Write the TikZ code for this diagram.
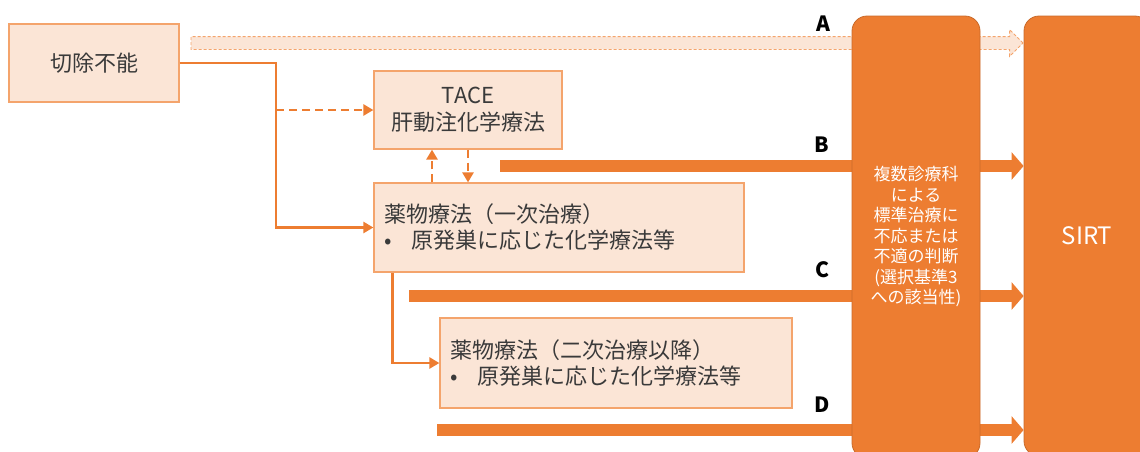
\documentclass[tikz,border=0pt]{standalone}
\usepackage{fontspec}
\setmainfont{Noto Sans CJK JP}
\usetikzlibrary{arrows.meta,shapes.arrows}
\definecolor{org}{HTML}{ED7D31}
\definecolor{peach}{HTML}{FBE5D6}
\definecolor{pline}{HTML}{F4A46C}
\definecolor{txt}{HTML}{3A3A3A}
\begin{document}
\begin{tikzpicture}[x=1pt,y=-1pt,
 box/.style={draw=pline,line width=1.2pt,fill=peach,text=txt,font=\fontsize{22}{26}\selectfont,inner sep=0pt},
 conn/.style={draw=org,line width=2.7pt,-{Triangle[length=10pt,width=11pt]}},
 dconn/.style={conn,dash pattern=on 8pt off 5pt},
 fat/.style={draw=org,line width=12pt,-{Triangle[length=12pt,width=27pt]}},
 lab/.style={font=\fontsize{21}{21}\selectfont\bfseries,text=black},
 big/.style={fill=org,draw=org!85!black,line width=0.8pt,rounded corners=15pt,text=white,align=center,inner sep=0pt}]
\useasboundingbox (0,0) rectangle (1140,451);
% nodes
\node[box,minimum width=170pt,minimum height=78pt] (cut) at (94,63) {切除不能};
\node[box,minimum width=188pt,minimum height=78pt,align=center,font=\fontsize{22}{27}\selectfont] (tace) at (468,110) {TACE\\肝動注化学療法};
\node[box,minimum width=370pt,minimum height=89pt,text width=350pt,inner xsep=10pt,align=left] (y1) at (559,227.5)
 {薬物療法（一次治療）\\\makebox[28pt][l]{•}原発巣に応じた化学療法等};
\node[box,minimum width=352pt,minimum height=90pt,text width=332pt,inner xsep=10pt,align=left] (y2) at (616,363)
 {薬物療法（二次治療以降）\\\makebox[28pt][l]{•}原発巣に応じた化学療法等};
\node[big,minimum width=126pt,minimum height=440pt,font=\fontsize{24}{24}\selectfont] (sirt) at (1087,236) {SIRT};
% A arrow
\node[single arrow,draw=pline,line width=0.8pt,dash pattern=on 3pt off 2pt,fill=peach,minimum height=832pt,minimum width=26pt,
 single arrow head extend=7pt,inner xsep=0pt,inner ysep=6pt,anchor=tip] (aA) at (sirt.west |- 0,43) {};
% thick arrows
\coordinate (bS) at (500,166);
\coordinate (cS) at (409,296);
\coordinate (dS) at (437,430);
\draw[fat] (bS) -- (bS -| sirt.west);
\draw[fat] (cS) -- (cS -| sirt.west);
\draw[fat] (dS) -- (dS -| sirt.west);
% judge box
\node[big,minimum width=128pt,minimum height=442pt,font=\fontsize{17}{20.5}\selectfont] (judge) at (916,237)
 {複数診療科\\による\\標準治療に\\不応または\\不適の判断\\(選択基準3\\への該当性)};
% connectors
\coordinate (j) at (276,63);
\draw[conn] (cut.east) -- (j) |- (y1.west);
\draw[dconn] (tace.west -| j) -- (tace.west);
\draw[dconn] ([xshift=-36pt]tace.south |- y1.north) -- ([xshift=-36pt]tace.south);
\draw[dconn] (tace.south) -- (tace.south |- y1.north);
\draw[conn] ([xshift=19pt]y1.south west) |- (y2.west);
% labels
\node[lab] (la) at (823,24) {A};
\node[lab] (lb) at (822,145) {B};
\node[lab] (lc) at (822,270) {C};
\node[lab] (ld) at (822,405) {D};
\end{tikzpicture}
\end{document}
